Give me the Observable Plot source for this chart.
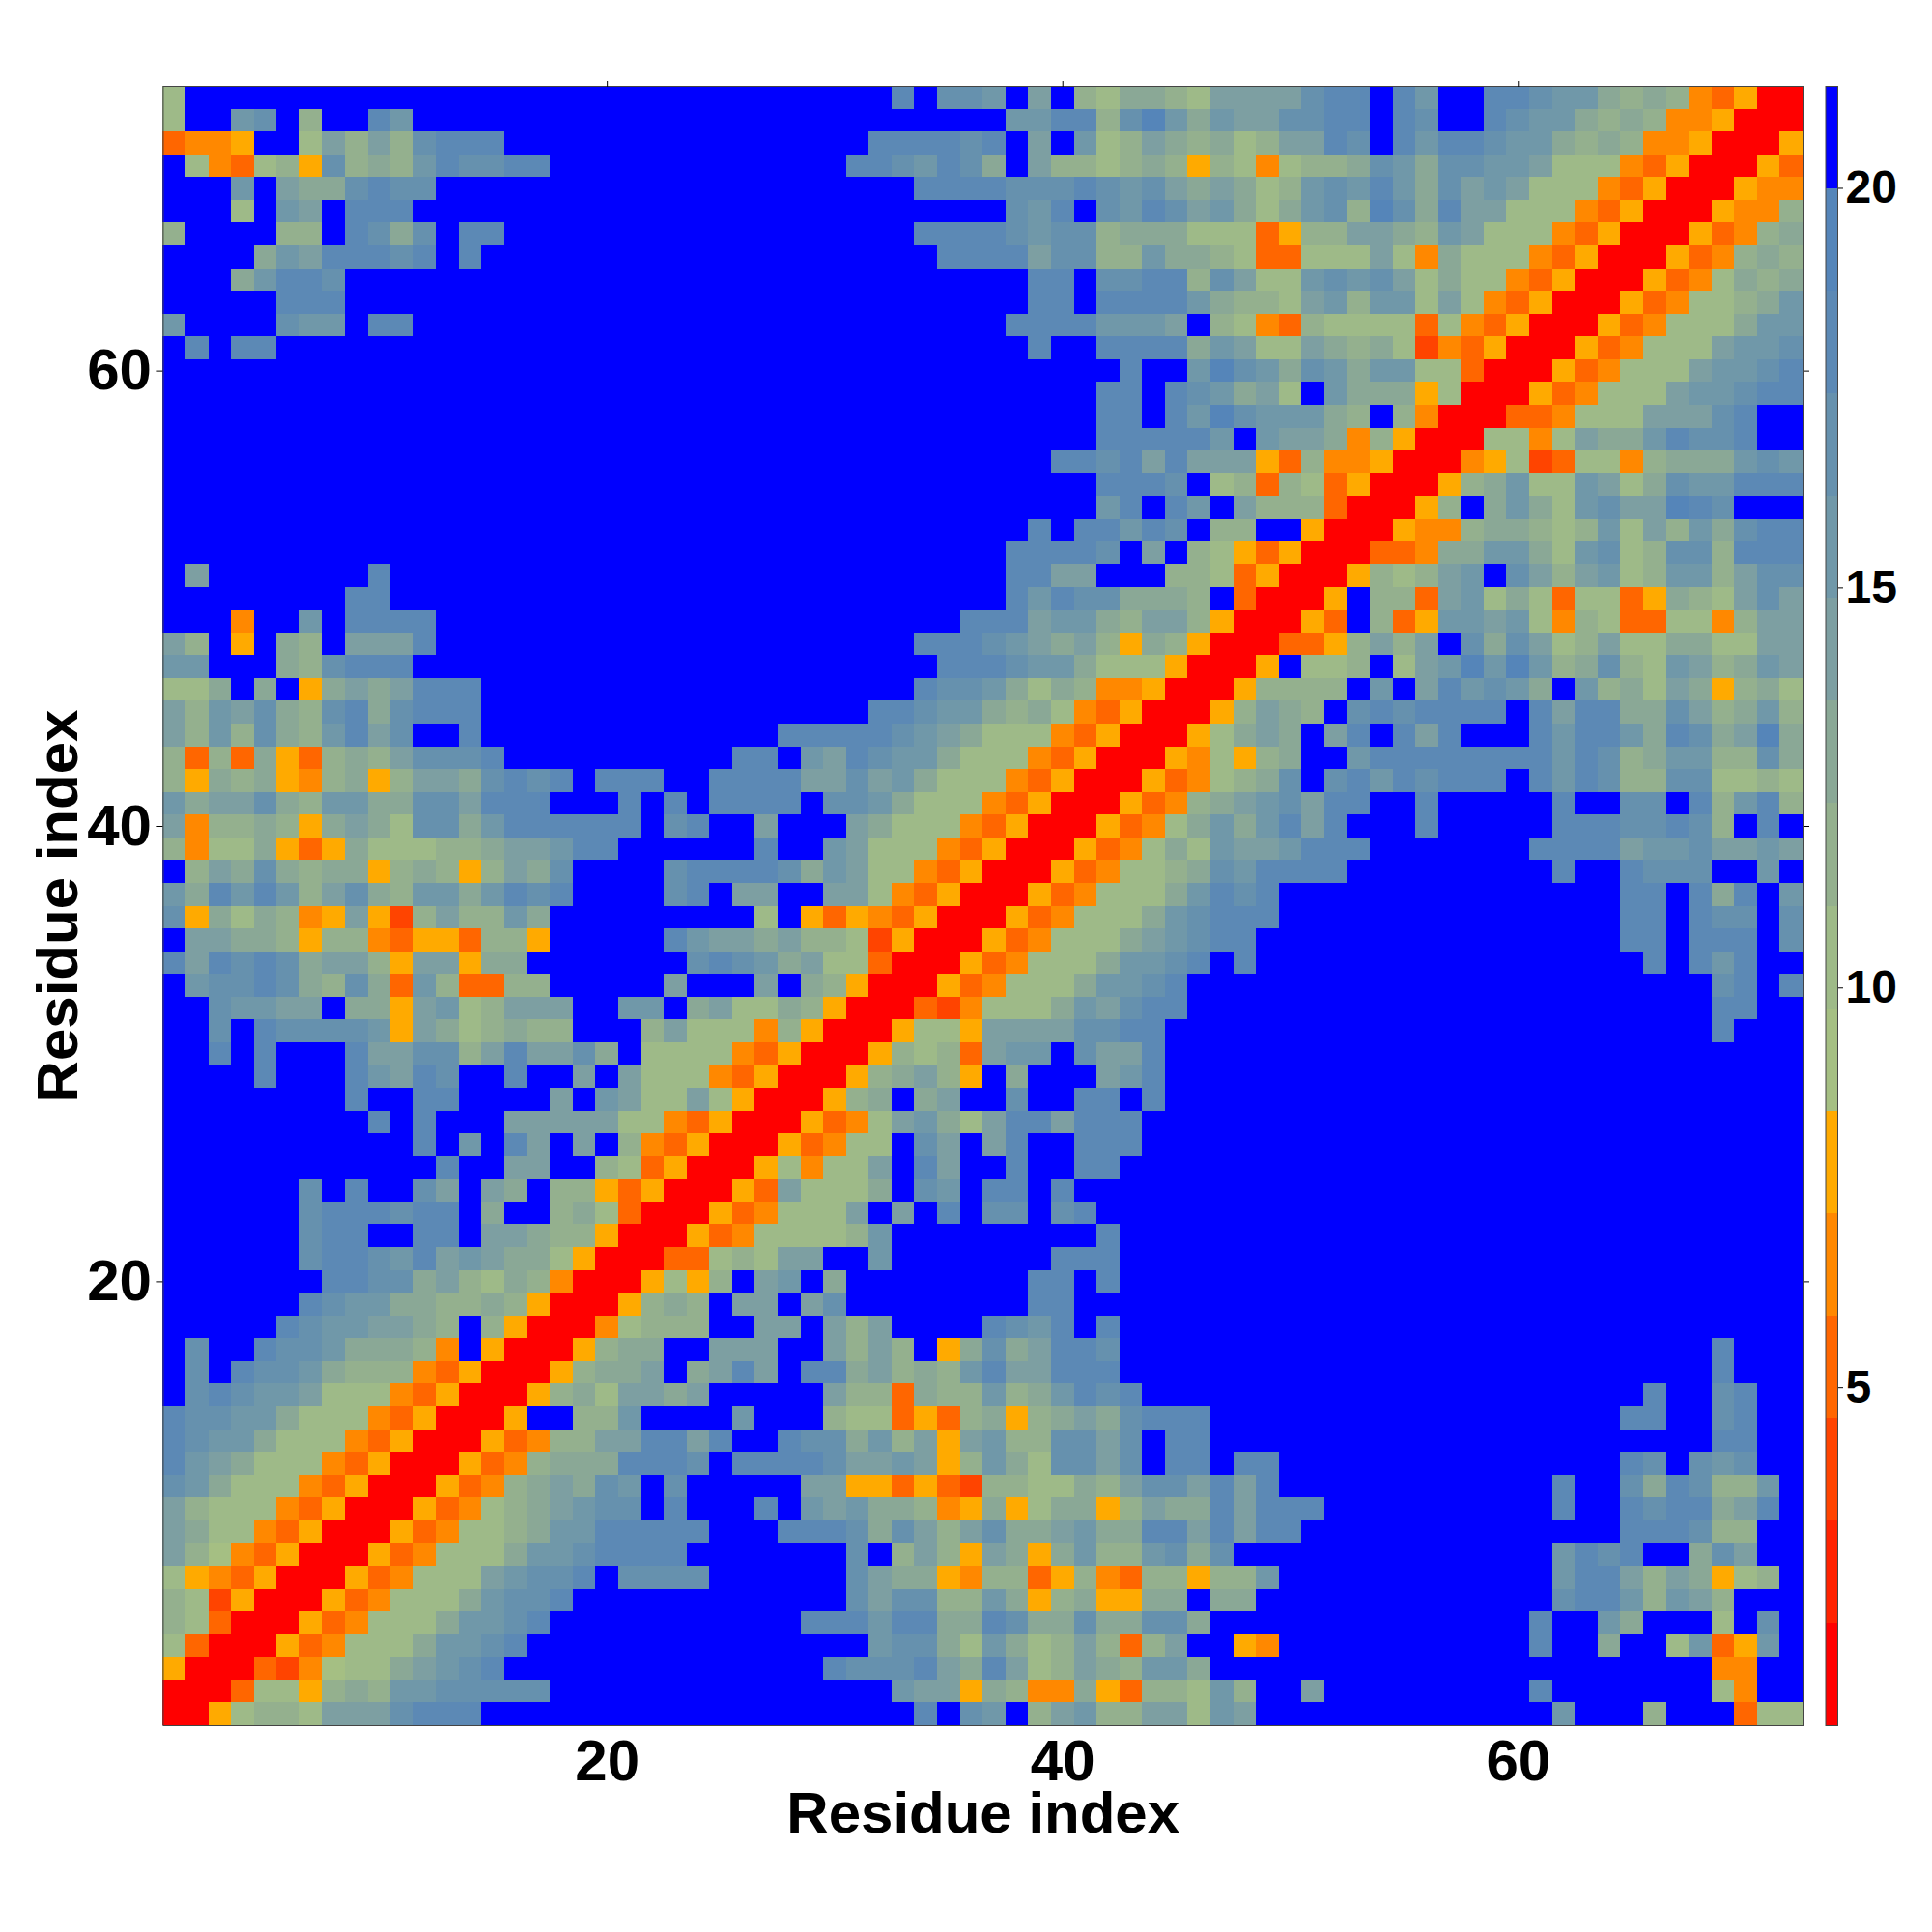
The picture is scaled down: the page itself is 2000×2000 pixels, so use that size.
<!DOCTYPE html>
<html>
<head>
<meta charset="utf-8">
<script src="https://cdn.jsdelivr.net/npm/d3@7"></script>
<script src="https://cdn.jsdelivr.net/npm/@observablehq/plot@0.6"></script>
<style>
html,body{margin:0;padding:0;background:#fff}
#wrap{position:relative;width:2000px;height:2000px}
#wrap svg{position:absolute;left:0;top:0;background:transparent}
</style>
</head>
<body>
<div id="wrap"></div>
<script>
// Each band is one of 16 colour levels (hex digit). Matrix is symmetric: rows hold columns 1..row,
// top row first; space-separated chunks are 24 columns each (trailing "f" omitted).
const rowsTop = [
"7 ffffffffdfccbfaf879987aa aacddfdbffddcbb989843500",
"7ffbcf8ffdb fffffffffffffbbdd8ceb9ba accddfdcffdcbb989844500",
"3445ff7a8a8cddd fffffffddddcdfafb78a9897 8aadcfdbddcbb989844500",
"f743785c898bdccdd ffffffddcbdc9fa887898587 47889cb9ccbba77743500",
"fffbfa99cdcc fffffffffddddcccdcbca9a9 78bcbdb9caba77743500",
"fff7fbafddd fffffffffffffcbdfcbdcab9 79bc8ec9daa77743500",
"8ffff88fdc9cfdd fffffffffddddcbcc8999777 3588aa98ba77743500",
"ffff9badddcdfd ffffffffffddddacc88b9987 33777a74977743500",
"fff9bddc ffffffffffffffddfccdd8ca 77bcbca797743500",
"fffffddd ffffffffffffffddfddddb98 87ab8bb7a743500",
"bffffcbbfdd fffffffffffffddddbbbaf87 43877773743500",
"fdfdd ffffffffffffffdffdddd9ba 77a9897243500",
"f ffffffffffffffffffdffbec b9cb9bb77300",
"f fffffffffffffffffddfdcb9 a7fb9995700",
"f fffffffffffffffffddfdbec bbb98f8400",
"f fffffffffffffffffdddddbf baa948500",
"f fffffffffffffffddcdadaaa 53844500",
"f fffffffffffffffffdddcf78 3873500",
"f fffffffffffffffffbdfdbfa 888300",
"f ffffffffffffffdfddbdcf88 ff500",
"f fffffffffffffddddcfaf875 3500",
"fafffffffd fffffffffffffddaafff8873 500",
"ffffffffdd fffffffffffffdbdcc9998f3 00",
"fff4ffbfdddd fffffffffffdddabb98aa850 0",
"a8f5f98faaad fffffffffdddcba9a8598500",
"bbfff98cddd ffffffffffdddcbb9777500",
"779f9f59a9addd fffffffffdccb979844500",
"a8bac98cd9cddd fffffffddcbb989743500",
"a8b8c98bdacffd fffdddddcba977743500",
"8383953898acccd fddfbadcbb977743500",
"85989548958aa9cdcdfddd ddddaacab977743500",
"b9aac98bb99ccadddfffdfd ddddfccb977743500",
"a4889859a97cc9bddddddfcd ffafffa977743500",
"847795359777889aabdd ffdffba77743500",
"f8a9c9899589858a9cffffcd dddc9ba7743500",
"b9dbdb8ac98bb9bdcdffffcd faaffaa743500",
"c5979845a528a88b9 ff7f53543500",
"faa99858843553885fffffdb aa9a8872500",
"dadcdc9aa85aa599fffffffc dcb9a77300",
"fbccdc98c93b83388fffffaf ffaf98500",
"ffcbbaaf995ab78aaaffbbf9 a7798500",
"ffcfdccccb5a978988fff8a7 7748500",
"ffdfdfffdaacc8adaac9f777 743500",
"ffffdfffdbadcffdffafa777 43500",
"ffffffffdffddffffafba77a 7500",
"fffffffffdfdfffaaaaa7743 500",
"fffffffffffdfbfdafaf8435 00",
"ffffffffffffdffaaff87350 0",
"ffffffcfdffcafa9f8853500",
"ffffffcdddcddf9ff897300",
"ffffffcddffddfaa988500",
"ffffffcddcbdaba997500",
"fffffffddcc9a8798400",
"ffffffdcbb998898500",
"fffffdcbbaa98f8500",
"fcffdccb99984f500",
"fcfdccb988843500",
"fcdcbba77743500",
"dccbb977743500",
"dcbb977743500",
"dba977743500",
"cb977743500",
"a877743500",
"a97743500",
"a8643500",
"7543500",
"872500",
"87300",
"7300",
"500",
"00",
"0"
];
const n = 72;
const levelColors = ["#ff0000","#ff2200","#ff4400","#ff6600","#ff8800","#ffaa00",
  "#a5bf83","#9eba88","#94b08e","#8aa896","#7d9fa2","#7098a9","#6691ae","#5c89b5","#5585b9","#0000ff"];
const levelIds = d3.range(16);
const axisTicks = [20,40,60];
const barTicks = [5,10,15,20];
const barMin = 0.75, barMax = 21.25;
const axisLabel = "Residue index";
const font = "'Liberation Sans', Arial, sans-serif";

const grid = rowsTop.map(s => s.split(" ").map(c => c.padEnd(24,"f")).join(""));
const cells = [];
grid.forEach((s, k) => {
  const row = n - k;
  for (let c = 1; c <= row; c++) {
    const level = parseInt(s[c-1], 16);
    cells.push({col:c, row, level});
    if (c !== row) cells.push({col:row, row:c, level});
  }
});
const colorScale = {type:"ordinal", domain:levelIds, range:levelColors};

const main = Plot.plot({
  width:2000, height:2000,
  marginLeft:168.4, marginRight:134, marginTop:89, marginBottom:214,
  style:{fontFamily:font, background:"transparent"},
  x:{domain:[0.5,n+0.5], label:null},
  y:{domain:[0.5,n+0.5], label:null},
  color:colorScale,
  marks:[
    Plot.rect(cells,{x1:d=>d.col-0.5,x2:d=>d.col+0.5,y1:d=>d.row-0.5,y2:d=>d.row+0.5,fill:"level",shapeRendering:"crispEdges"}),
    Plot.frame({stroke:"#444",strokeWidth:1}),
    Plot.axisX({anchor:"bottom",ticks:axisTicks,tickSize:6,tickPadding:8,fontSize:60,fontWeight:"bold",fill:"#000",stroke:"none",
      label:axisLabel,labelAnchor:"center",labelArrow:"none",labelOffset:110}),
    Plot.axisX({anchor:"top",ticks:axisTicks,tickSize:6,tickFormat:()=>"",label:null}),
    Plot.axisY({anchor:"left",ticks:axisTicks,tickSize:6,tickPadding:6,fontSize:60,fontWeight:"bold",fill:"#000",
      label:axisLabel,labelAnchor:"center",labelArrow:"none",labelOffset:132}),
    Plot.axisY({anchor:"right",ticks:axisTicks,tickSize:6,tickFormat:()=>"",label:null})
  ]
});

const step = (barMax-barMin)/16;
const bands = levelIds.map(i => ({level:i, lo:barMin+i*step, hi:barMin+(i+1)*step}));
const bar = Plot.plot({
  width:2000, height:2000,
  marginLeft:1889.5, marginRight:98, marginTop:89, marginBottom:214,
  style:{fontFamily:font, background:"transparent"},
  x:{domain:[0,1],axis:null},
  y:{domain:[barMin,barMax],label:null},
  color:colorScale,
  marks:[
    Plot.rect(bands,{x1:0,x2:1,y1:"lo",y2:"hi",fill:"level",shapeRendering:"crispEdges"}),
    Plot.frame({stroke:"#444",strokeWidth:1}),
    Plot.axisY({anchor:"right",ticks:barTicks,tickSize:5,tickPadding:3,dy:2,fontSize:48,fontWeight:"bold",fill:"#000",label:null})
  ]
});
document.getElementById("wrap").append(main, bar);
</script>
</body>
</html>
